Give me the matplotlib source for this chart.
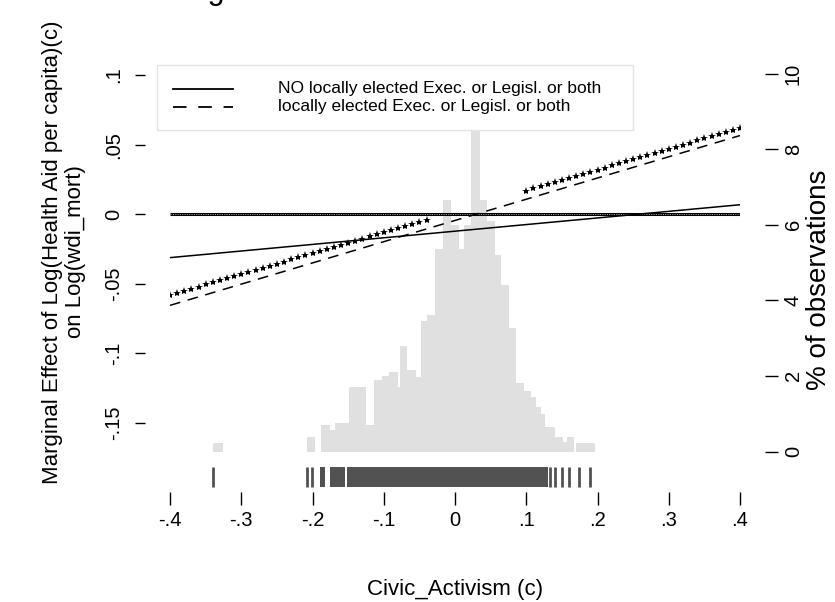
import numpy as np
import matplotlib
matplotlib.use("Agg")
import matplotlib.pyplot as plt
from matplotlib.patches import Rectangle
from matplotlib.lines import Line2D

plt.rcParams['font.family'] = ['Liberation Sans', 'DejaVu Sans']

# Moderator range and fitted marginal effects at its two ends
civic_range = [-0.4, 0.4]
me_no_local = [-0.0312, 0.0068]
me_local = [-0.0655, 0.0565]

# Significance markers: grid points (in hundredths) where the difference is significant
star_grid = list(range(-40, -3)) + list(range(10, 41))
star_line = [-0.0580, 0.0620]

# Distribution of Civic_Activism (% of observations per bin)
hist_left = [-0.340, -0.208, -0.188, -0.175, -0.168, -0.149, -0.125, -0.114,
             -0.103, -0.092, -0.080, -0.077, -0.067, -0.055, -0.048, -0.039,
             -0.028, -0.017, -0.005, 0.006, 0.012, 0.023, 0.035, 0.045,
             0.056, 0.065, 0.076, 0.086, 0.097, 0.106, 0.113, 0.120, 0.127,
             0.141, 0.151, 0.157, 0.170]
hist_right = [-0.326, -0.196, -0.175, -0.168, -0.149, -0.125, -0.114, -0.103,
              -0.092, -0.080, -0.077, -0.067, -0.055, -0.048, -0.039, -0.028,
              -0.017, -0.005, 0.006, 0.012, 0.023, 0.035, 0.045, 0.056,
              0.065, 0.076, 0.086, 0.097, 0.106, 0.113, 0.120, 0.127, 0.141,
              0.151, 0.157, 0.167, 0.196]
hist_pct = [0.22, 0.38, 0.70, 0.57, 0.75, 1.70, 0.70, 1.90, 2.00, 2.10, 1.70,
            2.80, 2.15, 1.98, 3.45, 3.60, 5.37, 6.65, 5.99, 5.37, 5.99, 9.50,
            6.65, 6.10, 5.19, 4.40, 3.26, 1.80, 1.60, 1.45, 1.18, 1.00, 0.64,
            0.38, 0.26, 0.38, 0.23]

# Observed values along the moderator (rug)
rug_single = [-0.3396, -0.208, -0.201, 0.133, 0.140, 0.150, 0.160, 0.174, 0.190]
rug_dense = [(-0.189, -0.182), (-0.175, -0.154), (-0.152, 0.131)]

xticks = [-0.4, -0.3, -0.2, -0.1, 0.0, 0.1, 0.2, 0.3, 0.4]
xtick_labels = ['-.4', '-.3', '-.2', '-.1', '0', '.1', '.2', '.3', '.4']
yticks = [-0.15, -0.1, -0.05, 0.0, 0.05, 0.1]
ytick_labels = ['-.15', '-.1', '-.05', '0', '.05', '.1']
pct_ticks = [0, 2, 4, 6, 8, 10]

W, H = 835, 602
fig = plt.figure(figsize=(W / 100, H / 100), dpi=100)

# plot region in pixels
left_px, right_px, top_px, bot_px = 170, 740, 60, 460
ax = fig.add_axes([left_px / W, 1 - bot_px / H, (right_px - left_px) / W,
                   (bot_px - top_px) / H])
ax.set_zorder(2)
ax.patch.set_visible(False)
axh = ax.twinx()
axh.set_zorder(1)
axh.set_position(ax.get_position())

ax.set_xlim(-0.4, 0.4)
ppu = 1392.0  # pixels per unit on the effect axis
ax.set_ylim(-0.15 - (bot_px - 423) / ppu, 0.1 + (75 - top_px) / ppu)
ppp = 37.8   # pixels per percent
axh.set_ylim(-(bot_px - 451.5) / ppp, (451.5 - top_px) / ppp)

# histogram
axh.bar(hist_left, hist_pct, width=np.array(hist_right) - np.array(hist_left),
        align='edge', color='#e0e0e0', edgecolor='none', linewidth=0)

# zero reference line
ax.plot(civic_range, [0, 0], color='black', lw=2.2, solid_capstyle='butt')
ax.plot(civic_range, [0, 0], color='#9a9a9a', lw=0.7, ls=(0, (1.2, 1.2)))

# marginal effect lines
ax.plot(civic_range, me_no_local, color='black', lw=1.1)
ax.plot(civic_range, me_local, color='black', lw=1.1, ls=(0, (7, 5)))

star_x = np.array(star_grid) / 100.0
star_y = np.interp(star_x, civic_range, star_line)
ax.plot(star_x, star_y, ls='none', marker='*', ms=6, color='black', mew=0)

# rug
xt = ax.get_xaxis_transform()
rug_top = -(467 - bot_px) / (bot_px - top_px)
rug_bot = -(487 - bot_px) / (bot_px - top_px)
ax.vlines(rug_single, rug_bot, rug_top, transform=xt, colors='#525252',
          lw=2.0, clip_on=False)
for a, b in rug_dense:
    ax.add_patch(Rectangle((a, rug_bot), b - a, rug_top - rug_bot, transform=xt,
                           facecolor='#525252', edgecolor='none', clip_on=False))

# axes styling
for s in ax.spines.values():
    s.set_visible(False)
for s in axh.spines.values():
    s.set_visible(False)
ax.spines['bottom'].set_position(('outward', (492 - bot_px) * 0.72))
ax.spines['left'].set_position(('outward', (left_px - 145) * 0.72))
axh.spines['right'].set_position(('outward', (765 - right_px) * 0.72))

ax.set_xticks(xticks, xtick_labels)
ax.set_yticks(yticks, ytick_labels)
axh.set_yticks(pct_ticks, [str(t) for t in pct_ticks])
ax.tick_params(axis='x', direction='out', length=9.5, width=1.0, labelsize=14.5,
               pad=4)
ax.tick_params(axis='y', direction='out', length=7.5, width=1.0, labelsize=14.5,
               pad=8)
axh.tick_params(axis='y', direction='out', length=9.5, width=1.0, labelsize=14.5,
                pad=4)
for lab in ax.get_yticklabels():
    lab.set_rotation(90)
    lab.set_va('center')
for lab in axh.get_yticklabels():
    lab.set_rotation(90)
    lab.set_va('center')

fig.text(455 / W, 1 - 590 / H, 'Civic_Activism (c)', ha='center', va='center',
         fontsize=16)
fig.text(53 / W, 1 - 252 / H, 'Marginal Effect of Log(Health Aid per capita)(c)',
         rotation=90, ha='center', va='center', fontsize=16)
fig.text(75 / W, 1 - 252 / H, 'on Log(wdi_mort)', rotation=90, ha='center',
         va='center', fontsize=16)
fig.text(819 / W, 1 - 280 / H, '% of observations', rotation=90, ha='center',
         va='center', fontsize=20)

fig.text(155 / W, 1 + 0.5 / H, 'Marginal Effect of Civic Activism on Health Aid Effect',
         ha='left', va='baseline', fontsize=22)

# legend box
fig.patches.append(Rectangle((157 / W, 1 - 130 / H), 476 / W, 65 / H,
                             transform=fig.transFigure, facecolor='white',
                             edgecolor='#e4e4e4', lw=1.0, zorder=5))
fig.lines.append(Line2D([173 / W, 233 / W], [1 - 89 / H, 1 - 89 / H],
                        transform=fig.transFigure, color='black', lw=1.3, zorder=6))
fig.lines.append(Line2D([173 / W, 233 / W], [1 - 107 / H, 1 - 107 / H],
                        transform=fig.transFigure, color='black', lw=1.3,
                        ls=(0, (7.5, 6.5)), zorder=6))
fig.text(278 / W, 1 - 89 / H, 'NO locally elected Exec. or Legisl. or both',
         ha='left', va='center', fontsize=12.5, zorder=7)
fig.text(278 / W, 1 - 107 / H, 'locally elected Exec. or Legisl. or both',
         ha='left', va='center', fontsize=12.5, zorder=7)

fig.savefig('out.png', dpi=100)
